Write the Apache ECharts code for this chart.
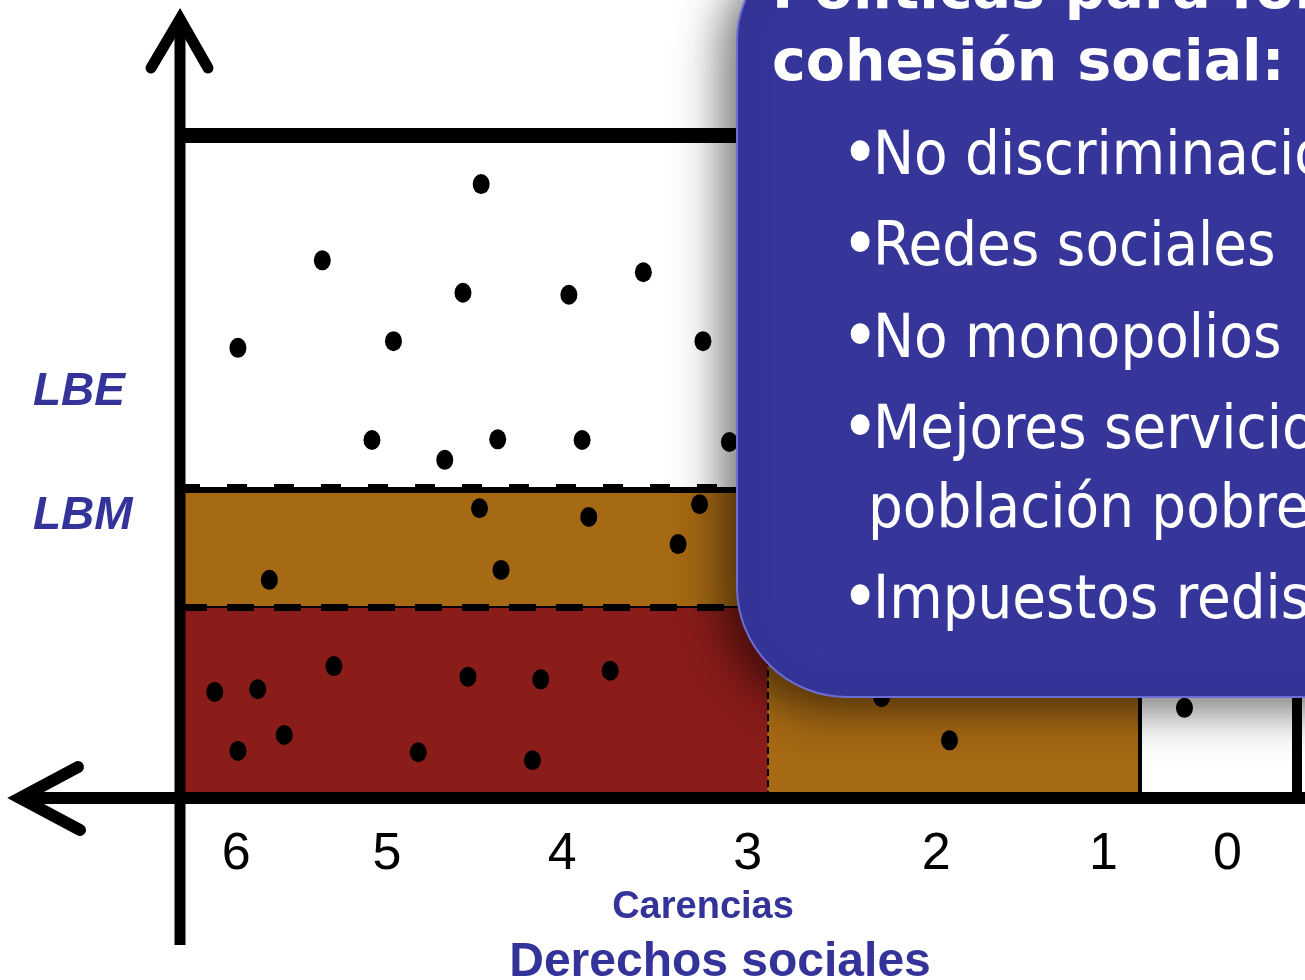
<!DOCTYPE html>
<html>
<head>
<meta charset="utf-8">
<script src="https://cdn.jsdelivr.net/npm/echarts@6/dist/echarts.min.js"></script>
<style>
html,body{margin:0;padding:0;background:#ffffff;}
#chart{width:1305px;height:980px;}
</style>
</head>
<body>
<div id="chart"></div>
<script>
// ---- data ----
const tickLabels = ['6', '5', '4', '3', '2', '1', '0'];
const tickValues = [6.01, 5.10, 4.04, 2.92, 1.78, 0.77, 0.02];

// dots: carencias (x) and ingreso (y, arbitrary units 0-100)
const dotCarencias = [4.53, 5.49, 4.64, 4.00, 3.55, 6.00, 5.06, 3.19, 5.19, 4.75, 4.43, 3.92, 3.03,
                      4.54, 3.88, 3.21, 3.34, 4.41, 5.81, 2.11, 1.70,
                      0.28,
                      6.14, 5.88, 5.42, 4.61, 4.17, 3.75, 6.00, 5.72, 4.91, 4.22];
const dotIngreso   = [92.6, 81.1, 76.2, 75.9, 79.3, 67.9, 68.9, 68.9, 54.0, 51.0, 54.1, 54.0, 53.7,
                      43.7, 42.4, 44.3, 38.3, 34.4, 32.9, 15.2, 8.7,
                      13.6,
                      16.0, 16.4, 19.9, 18.3, 17.9, 19.2, 7.1, 9.5, 6.9, 5.7];

const LBE = 46.5;          // línea de bienestar
const LBM = 28.8;          // línea de bienestar mínimo
const cutExtreme = 2.8;    // umbral de carencias (pobreza extrema)
const cutPoor = 0.55;      // umbral de carencias (pobreza)
const xMin = -0.4, xMax = 6.35, yMin = 0, yMax = 100;

const boxTitle = ['Políticas para fortalecer la', 'cohesión social:'];
const boxItems = [
  {bullet: true,  text: 'No discriminación'},
  {bullet: true,  text: 'Redes sociales'},
  {bullet: true,  text: 'No monopolios'},
  {bullet: true,  text: 'Mejores servicios para la'},
  {bullet: false, text: 'población pobre'},
  {bullet: true,  text: 'Impuestos redistributivos'}
];
const yLabels = ['LBE', 'LBM'];
const xName = 'Carencias';
const xTitle = 'Derechos sociales';

// ---- styles ----
const RED = '#8a1d1a', BROWN = '#a66914', BLUE_BOX = '#35359a', BLUE_TXT = '#333399';

const chart = echarts.init(document.getElementById('chart'), null, {renderer: 'canvas'});

function hline(y, style) {
  return [{coord: [xMax, y], lineStyle: style}, {coord: [xMin, y]}];
}
function vline(x, y0, y1, style) {
  return [{coord: [x, y0], lineStyle: style}, {coord: [x, y1]}];
}

const option = {
  animation: false,
  backgroundColor: '#ffffff',
  grid: {left: 180, right: 8, top: 135, bottom: 182, containLabel: false},
  xAxis: {
    type: 'value', min: xMin, max: xMax, inverse: true,
    axisLine: {show: false}, axisTick: {show: false}, splitLine: {show: false},
    axisLabel: {
      customValues: tickValues,
      formatter: function (v) {
        let best = 0, d = 1e9;
        tickValues.forEach(function (t, i) { if (Math.abs(t - v) < d) { d = Math.abs(t - v); best = i; } });
        return tickLabels[best];
      },
      margin: 31, fontSize: 52, color: '#000', fontFamily: '"Liberation Sans", Arial, sans-serif'
    }
  },
  yAxis: {
    type: 'value', min: yMin, max: yMax,
    axisLine: {show: false}, axisTick: {show: false}, splitLine: {show: false}, axisLabel: {show: false}
  },
  series: [
    {
      name: 'regiones', type: 'line', data: [], z: 1, silent: true,
      markArea: {
        silent: true,
        data: [
          [{coord: [xMax, yMin], itemStyle: {color: BROWN, opacity: 1}}, {coord: [cutPoor, LBE]}],
          [{coord: [xMax, yMin], itemStyle: {color: RED, opacity: 1}}, {coord: [cutExtreme, LBM]}]
        ]
      }
    },
    {
      name: 'umbrales', type: 'line', data: [], z: 2, silent: true,
      markLine: {
        silent: true, symbol: ['none', 'none'], label: {show: false},
        data: [
          hline(yMax, {color: '#000', width: 15, type: 'solid', opacity: 1}),
          hline(LBE, {color: '#000', width: 6, type: 'solid', opacity: 1}),
          hline(LBE + 0.6, {color: '#000', width: 4, type: [20, 27], opacity: 1}),
          hline(LBM, {color: '#000', width: 2, type: 'solid', opacity: 1}),
          hline(LBM, {color: '#000', width: 7, type: [27, 20], opacity: 1}),
          vline(cutExtreme, yMin, LBM, {color: '#000', width: 2, type: [7, 4], opacity: 1}),
          vline(cutPoor, yMin, LBE, {color: '#000', width: 4, type: 'solid', opacity: 1}),
          vline(xMin, yMin, LBE, {color: '#000', width: 10, type: 'solid', opacity: 1})
        ]
      }
    },
    {
      name: 'hogares', type: 'scatter', z: 4, silent: true,
      symbol: 'circle', symbolSize: [17, 20],
      itemStyle: {color: '#000', opacity: 1},
      data: dotCarencias.map(function (x, i) { return [x, dotIngreso[i]]; })
    }
  ]
};
chart.setOption(option);

// decorations positioned from the grid via the library's scales
const p0 = chart.convertToPixel({gridIndex: 0}, [xMax, yMin]); // left-bottom corner
const pLBE = chart.convertToPixel({gridIndex: 0}, [xMax, LBE]);
const pLBM = chart.convertToPixel({gridIndex: 0}, [xMax, LBM]);
const ox = p0[0], oy = p0[1];

const graphics = [
  // y axis with arrow
  {type: 'line', z: 50, shape: {x1: ox, y1: 18, x2: ox, y2: 945}, style: {stroke: '#000', lineWidth: 11}},
  {type: 'polyline', z: 50, shape: {points: [[ox - 29, 68], [ox, 19], [ox + 28, 68]]},
   style: {stroke: '#000', lineWidth: 11, fill: null, lineCap: 'round', lineJoin: 'miter'}},
  // x axis with arrow
  {type: 'line', z: 50, shape: {x1: 20, y1: oy, x2: 1305, y2: oy}, style: {stroke: '#000', lineWidth: 12}},
  {type: 'polyline', z: 50, shape: {points: [[78, oy - 31], [20, oy], [80, oy + 32]]},
   style: {stroke: '#000', lineWidth: 12, fill: null, lineCap: 'round', lineJoin: 'miter'}},
  // y labels
  {type: 'text', z: 50, x: 33, y: pLBE[1] - 97, style: {text: yLabels[0], fill: BLUE_TXT,
    font: 'italic bold 46px "Liberation Sans", Arial, sans-serif', align: 'left', verticalAlign: 'middle'}},
  {type: 'text', z: 50, x: 33, y: pLBM[1] - 91, style: {text: yLabels[1], fill: BLUE_TXT,
    font: 'italic bold 46px "Liberation Sans", Arial, sans-serif', align: 'left', verticalAlign: 'middle'}},
  // axis names
  {type: 'text', z: 50, x: 703, y: 908, style: {text: xName, fill: BLUE_TXT,
    font: 'bold 38px "Liberation Sans", Arial, sans-serif', align: 'center', verticalAlign: 'middle'}},
  {type: 'text', z: 50, x: 720, y: 963, style: {text: xTitle, fill: BLUE_TXT,
    font: 'bold 48px "Liberation Sans", Arial, sans-serif', align: 'center', verticalAlign: 'middle'}},
  // blue call-out box
  {type: 'rect', z: 100, shape: {x: 737, y: -60, width: 700, height: 757, r: [100, 0, 0, 110]},
   style: {fill: BLUE_BOX, stroke: '#6d6dd6', lineWidth: 2, shadowBlur: 45, shadowColor: 'rgba(0,0,0,0.55)',
     shadowOffsetX: -14, shadowOffsetY: 12}}
];

const titleY = [-7, 65];
boxTitle.forEach(function (t, i) {
  graphics.push({type: 'text', z: 101, x: 772, y: titleY[i], style: {text: t, fill: '#fff',
    font: 'bold 57px "DejaVu Sans", sans-serif', align: 'left', verticalAlign: 'middle'}});
});
const itemY = [158, 249, 341, 432, 511, 602];
boxItems.forEach(function (it, i) {
  if (it.bullet) {
    graphics.push({type: 'text', z: 101, x: 860, y: itemY[i], style: {text: '•', fill: '#fff',
      font: '72px "DejaVu Sans Condensed", "DejaVu Sans", sans-serif', align: 'center', verticalAlign: 'middle'}});
  }
  graphics.push({type: 'text', z: 101, x: it.bullet ? 873 : 868, y: itemY[i], style: {text: it.text, fill: '#fff',
    font: '61px "DejaVu Sans Condensed", "DejaVu Sans", sans-serif', align: 'left', verticalAlign: 'middle'}});
});

chart.setOption({graphic: {elements: graphics}});
</script>
</body>
</html>
